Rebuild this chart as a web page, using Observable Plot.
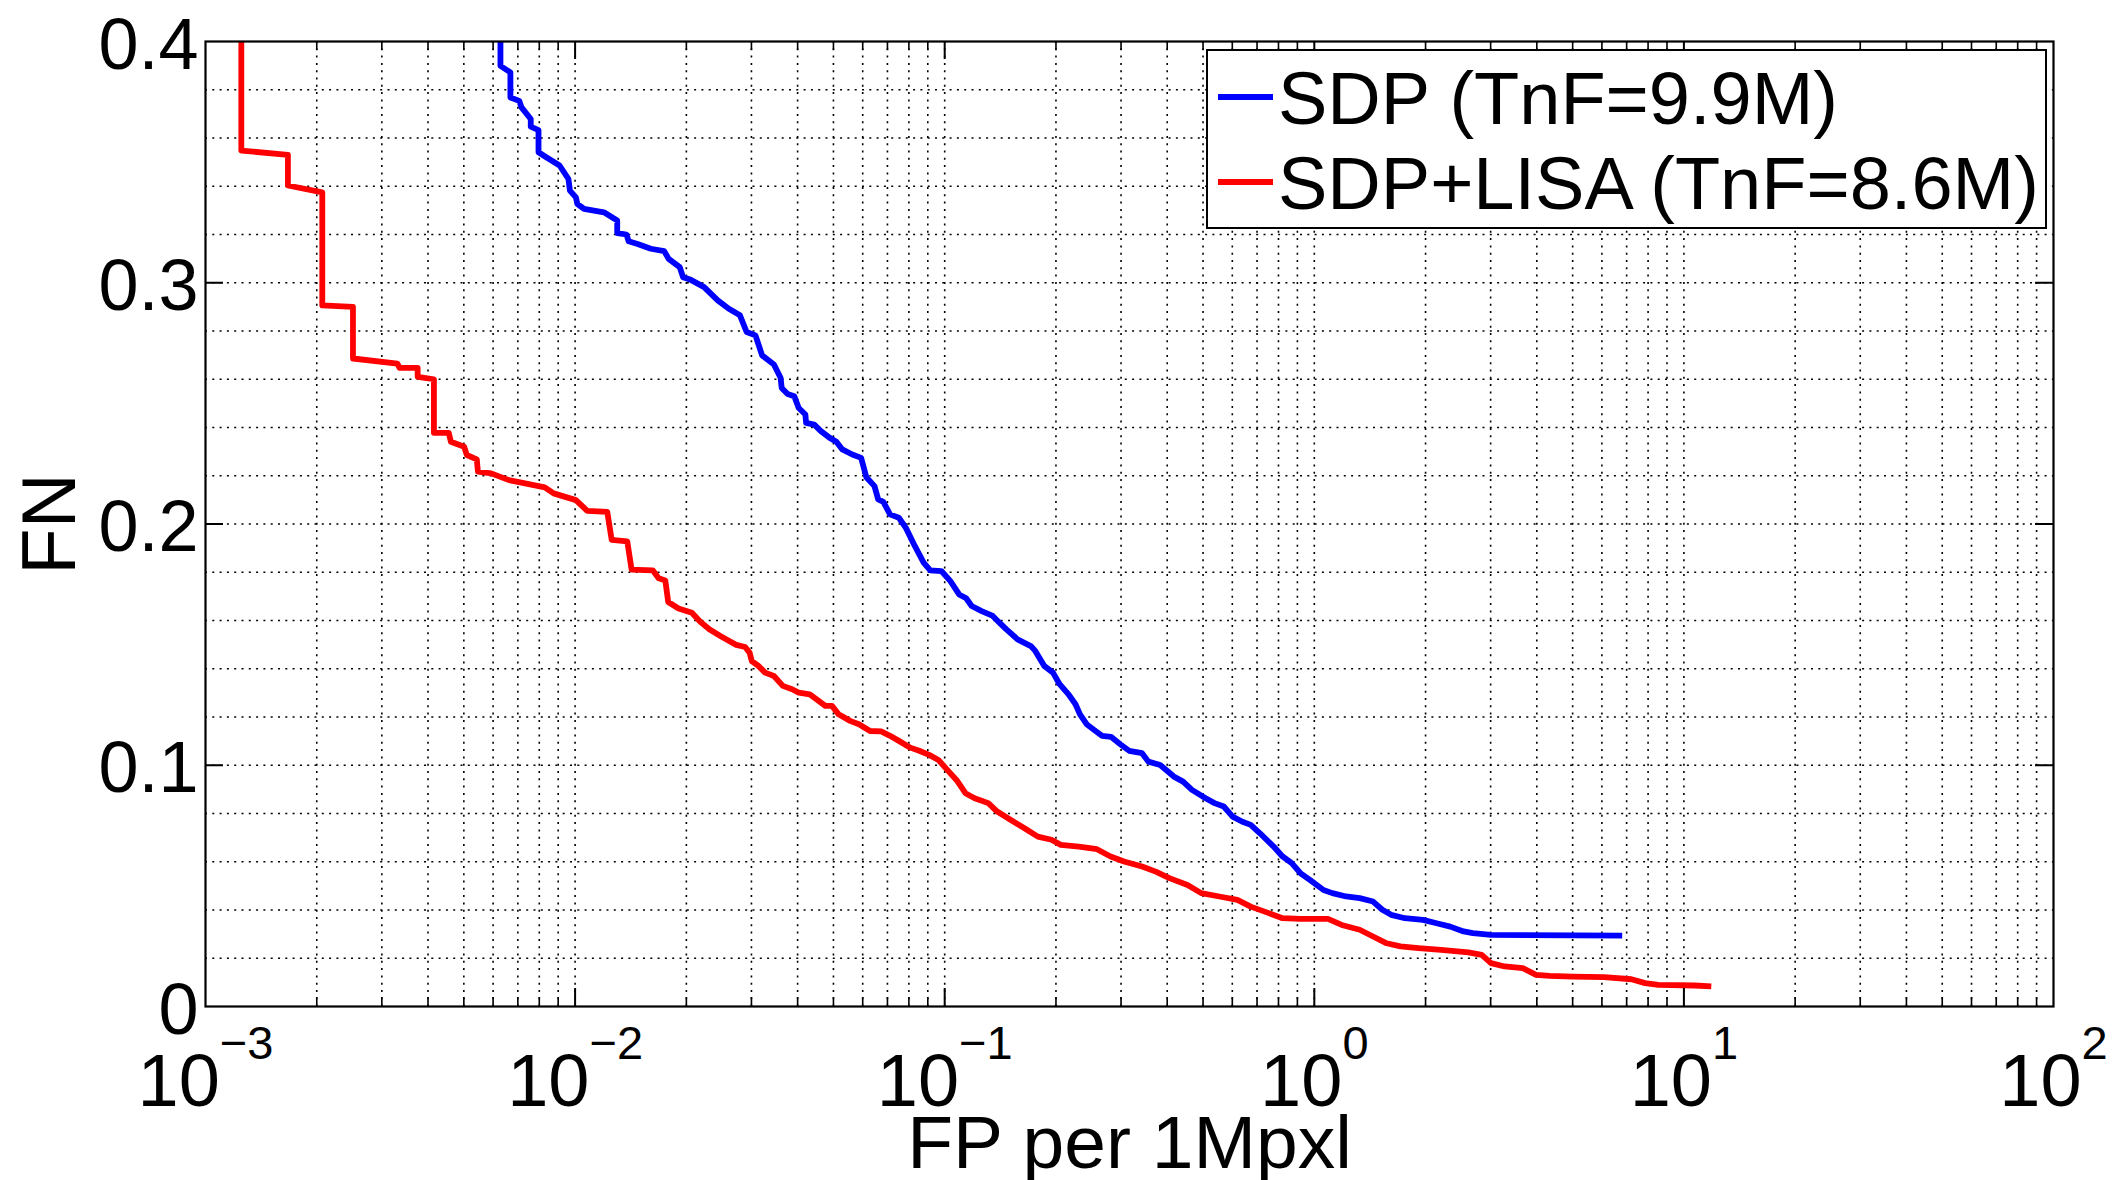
<!DOCTYPE html>
<html>
<head>
<meta charset="utf-8">
<script src="https://cdn.jsdelivr.net/npm/d3@7"></script>
<script src="https://cdn.jsdelivr.net/npm/@observablehq/plot@0.6"></script>
<style>
  html, body { margin: 0; padding: 0; background: #fff; }
  #wrap { position: relative; width: 2114px; height: 1180px; }
</style>
</head>
<body>
<div id="wrap"></div>
<script>
// ---------- data ----------
const seriesNames = ["SDP (TnF=9.9M)", "SDP+LISA (TnF=8.6M)"];
const seriesColors = ["#0000ff", "#ff0000"];

// SDP (blue): FP per 1Mpxl, FN
const sdpFP = [0.006281, 0.006281, 0.006683, 0.006683, 0.007063, 0.007161, 0.007586, 0.007586, 0.007962, 0.007962,
  0.008356, 0.009078, 0.009594, 0.009683, 0.01005, 0.01014, 0.01057, 0.01197, 0.01300, 0.01300,
  0.01377, 0.01396, 0.01476, 0.01603, 0.01742, 0.01791, 0.01919, 0.01959, 0.02056, 0.02234,
  0.02432, 0.02606, 0.02793, 0.02911, 0.03076, 0.03206,
  0.03451, 0.03597, 0.03622, 0.03758, 0.03917, 0.04027, 0.04198, 0.04217, 0.04436, 0.04624,
  0.04887, 0.05093, 0.05284, 0.05623, 0.05943, 0.06138, 0.06457, 0.06607, 0.06823, 0.07112,
  0.07516, 0.07852, 0.08299, 0.08770, 0.09141, 0.09795, 0.1035, 0.1094, 0.1143, 0.1183,
  0.1259, 0.1349, 0.1406, 0.1466, 0.1574, 0.1710, 0.1758, 0.1858, 0.1963, 0.2046,
  0.2163, 0.2259, 0.2323, 0.2421, 0.2559, 0.2667, 0.2818, 0.2985, 0.3155,
  0.3420, 0.3556, 0.3828, 0.4169, 0.4416, 0.4667, 0.5082, 0.5370, 0.5689, 0.6012,
  0.6368, 0.6730, 0.7129, 0.7762, 0.8204, 0.8690, 0.9183, 0.9727, 1.059, 1.119,
  1.219, 1.327, 1.442, 1.528, 1.614, 1.758, 1.968, 2.143, 2.333, 2.535,
  2.685, 3.006, 6.808];
const sdpFN = [0.400, 0.3899, 0.3872, 0.3768, 0.3754, 0.3727, 0.3679, 0.3647, 0.3633, 0.3541,
  0.3520, 0.3486, 0.3430, 0.3382, 0.3354, 0.3327, 0.3306, 0.3292, 0.3258, 0.3206,
  0.3200, 0.3172, 0.3161, 0.3141, 0.3131, 0.3099, 0.3065, 0.3023, 0.3012, 0.2982,
  0.2927, 0.2892, 0.2865, 0.2796, 0.2782, 0.2699,
  0.2661, 0.2606, 0.2564, 0.2539, 0.2530, 0.2481, 0.2454, 0.2419, 0.2412, 0.2385,
  0.2357, 0.2341, 0.2309, 0.2288, 0.2274, 0.2194, 0.2157, 0.2102, 0.2092, 0.2040,
  0.2026, 0.1984, 0.1909, 0.1840, 0.1808, 0.1805, 0.1764, 0.1708, 0.1692, 0.1660,
  0.1639, 0.1619, 0.1591, 0.1564, 0.1522, 0.1494, 0.1474, 0.1412, 0.1384, 0.1336,
  0.1294, 0.1253, 0.1211, 0.1170, 0.1142, 0.1122, 0.1118, 0.1087, 0.1060,
  0.1050, 0.1015, 0.1001, 0.0953, 0.0932, 0.0898, 0.0863, 0.0843, 0.0829, 0.0787,
  0.0767, 0.0753, 0.0718, 0.0663, 0.0622, 0.0594, 0.0552, 0.0525, 0.0483, 0.0470,
  0.0456, 0.0449, 0.0435, 0.0401, 0.0380, 0.0366, 0.0359, 0.0345, 0.0331, 0.0311,
  0.0304, 0.0297, 0.0294];

// SDP+LISA (red): FP per 1Mpxl, FN
const lisaFP = [0.001250, 0.001250, 0.001671, 0.001671, 0.002070, 0.002070, 0.002506, 0.002506, 0.003304, 0.003350,
  0.003750, 0.003750, 0.004150, 0.004150, 0.004550, 0.004613, 0.005012, 0.005093, 0.005420, 0.005458,
  0.005929, 0.006622, 0.008279, 0.008750, 0.01005,
  0.01079, 0.01222, 0.01256, 0.01384, 0.01422, 0.01622, 0.01683, 0.01754, 0.01786, 0.01905, 0.02070, 0.02178,
  0.02307, 0.02472, 0.02612, 0.02729, 0.02884, 0.02965, 0.03006, 0.03133, 0.03266, 0.03451,
  0.03648, 0.03864, 0.04027, 0.04315, 0.04560, 0.04753, 0.04955, 0.05164, 0.05546, 0.05861,
  0.06281, 0.06730, 0.07112, 0.07516, 0.08072, 0.08531,
  0.09078, 0.09616, 0.1016, 0.1076, 0.1138, 0.1205, 0.1312, 0.1387, 0.1510, 0.1644,
  0.1786, 0.1945, 0.2061, 0.2307, 0.2582, 0.2812, 0.3055, 0.3420, 0.3724, 0.4055,
  0.4539, 0.4943, 0.5534, 0.6194, 0.6730, 0.7534, 0.8204, 0.9183, 1.089, 1.186,
  1.327, 1.442, 1.570, 1.710, 1.914, 2.203, 2.612, 2.838, 3.006, 3.273,
  3.664, 3.981, 4.335, 5.000, 6.081, 7.211, 7.852, 8.531, 10.69, 11.86];
const lisaFN = [0.400, 0.3548, 0.3530, 0.3403, 0.3375, 0.2906, 0.2900, 0.2686, 0.2665, 0.2647,
  0.2647, 0.2610, 0.2600, 0.2378, 0.2378, 0.2341, 0.2320, 0.2286, 0.2268, 0.2217,
  0.2210, 0.2182, 0.2152, 0.2127, 0.2099,
  0.2054, 0.2050, 0.1934, 0.1928, 0.1811, 0.1808, 0.1775, 0.1766, 0.1677, 0.1650, 0.1632, 0.1596,
  0.1564, 0.1536, 0.1515, 0.1499, 0.1490, 0.1467, 0.1432, 0.1412, 0.1384, 0.1370,
  0.1329, 0.1315, 0.1301, 0.1294, 0.1267, 0.1246, 0.1246, 0.1211, 0.1184, 0.1170,
  0.1142, 0.1140, 0.1122, 0.1101, 0.1073, 0.1060,
  0.1043, 0.1022, 0.0981, 0.0939, 0.0884, 0.0863, 0.0843, 0.0808, 0.0773, 0.0739,
  0.0704, 0.0691, 0.0670, 0.0663, 0.0652, 0.0622, 0.0601, 0.0580, 0.0559, 0.0532,
  0.0504, 0.0470, 0.0456, 0.0442, 0.0414, 0.0387, 0.0366, 0.0363, 0.0363, 0.0338,
  0.0318, 0.0290, 0.0262, 0.0249, 0.0242, 0.0235, 0.0224, 0.0214, 0.0180, 0.0166,
  0.0159, 0.0131, 0.0127, 0.0124, 0.0122, 0.0113, 0.0097, 0.0090, 0.0087, 0.0083];

// axes / ticks
const xMajorTicks = [0.001, 0.01, 0.1, 1, 10, 100];
const xTickBase = "10";
const xTickExponents = ["\u22123", "\u22122", "\u22121", "0", "1", "2"];
const xMinorMultipliers = [2, 3, 4, 5, 6, 7, 8, 9];
const yMajorTicks = [0, 0.1, 0.2, 0.3, 0.4];
const yGridStep = 0.02;
const xLabel = "FP per 1Mpxl";
const yLabel = "FN";

// ---------- build tables ----------
const sdp = sdpFP.map((fp, i) => ({fp, fn: sdpFN[i]}));
const lisa = lisaFP.map((fp, i) => ({fp, fn: lisaFN[i]}));
const xMinorTicks = xMajorTicks.slice(0, -1).flatMap(d => xMinorMultipliers.map(m => m * d));
const xGrid = xMajorTicks.slice(1, -1).concat(xMinorTicks);
const yGrid = d3.range(1, 20).map(k => +(k * yGridStep).toFixed(2));

// ---------- layout ----------
const W = 2114, H = 1180;
const mL = 205, mR = 61, mT = 41, mB = 174;
const frameW = W - mL - mR, frameH = H - mT - mB;
const FONT = "'Liberation Sans', Arial, Helvetica, sans-serif";
const gridDash = "2,5.3";
const XTICK_FS = 74;
const LINE_W = 5.8;

const svg = Plot.plot({
  width: W,
  height: H,
  marginLeft: mL, marginRight: mR, marginTop: mT, marginBottom: mB,
  style: {fontFamily: FONT, background: "#fff", color: "#000", overflow: "visible"},
  x: {type: "log", domain: [1e-3, 1e2], axis: null},
  y: {domain: [0, 0.4]},
  marks: [
    // dotted grid
    Plot.ruleX(xGrid, {x: d => d, stroke: "#000", strokeWidth: 1.6, strokeDasharray: gridDash}),
    Plot.ruleY(yGrid, {y: d => d, stroke: "#000", strokeWidth: 1.6, strokeDasharray: gridDash}),
    // curves
    Plot.line(sdp, {x: "fp", y: "fn", stroke: seriesColors[0], strokeWidth: LINE_W, strokeLinejoin: "round", strokeLinecap: "butt", clip: true}),
    Plot.line(lisa, {x: "fp", y: "fn", stroke: seriesColors[1], strokeWidth: LINE_W, strokeLinejoin: "round", strokeLinecap: "butt", clip: true}),
    // inward ticks (bottom / top)
    Plot.ruleX(xMajorTicks.slice(1, -1), {x: d => d, insetTop: frameH - 18, stroke: "#000", strokeWidth: 2}),
    Plot.ruleX(xMajorTicks.slice(1, -1), {x: d => d, insetBottom: frameH - 18, stroke: "#000", strokeWidth: 2}),
    Plot.ruleX(xMinorTicks, {x: d => d, insetTop: frameH - 9, stroke: "#000", strokeWidth: 1.6}),
    Plot.ruleX(xMinorTicks, {x: d => d, insetBottom: frameH - 9, stroke: "#000", strokeWidth: 1.6}),
    // inward ticks (left / right)
    Plot.ruleY(yMajorTicks.slice(1, -1), {y: d => d, insetRight: frameW - 18, stroke: "#000", strokeWidth: 2}),
    Plot.ruleY(yMajorTicks.slice(1, -1), {y: d => d, insetLeft: frameW - 18, stroke: "#000", strokeWidth: 2}),
    // box
    Plot.frame({stroke: "#000", strokeWidth: 2.2}),
    // y tick labels
    Plot.axisY({ticks: yMajorTicks, tickSize: 0, tickPadding: 7, fontSize: 72, dy: 4,
      tickFormat: d3.format("~g"), label: null, fill: "#000"}),
    // x tick labels (10^k), exponents added below as tspans
    Plot.text(xMajorTicks, {x: d => d, text: () => xTickBase, frameAnchor: "bottom", lineAnchor: "bottom",
      textAnchor: "middle", dy: 99, fontSize: XTICK_FS, fill: "#000"}),
    // axis titles
    Plot.text([xLabel], {text: d => d, frameAnchor: "bottom", lineAnchor: "bottom", textAnchor: "middle",
      dy: 161, fontSize: 75, fill: "#000"}),
    Plot.text([yLabel], {text: d => d, frameAnchor: "left", lineAnchor: "bottom", textAnchor: "middle",
      rotate: -90, dx: -131, fontSize: 76, fill: "#000"})
  ]
});

// superscript exponents on the x tick labels
d3.select(svg).selectAll("g").filter(function() {
  return this.getAttribute("font-size") === String(XTICK_FS);
}).selectAll("text").each(function(d, i) {
  const idx = (typeof d === "number" && d >= 0 && d < xTickExponents.length) ? d : i;
  const t = d3.select(this);
  t.text(null);
  t.append("tspan").text(xTickBase);
  t.append("tspan").attr("font-size", 47).attr("dy", -47).text(xTickExponents[idx]);
});

// legend (inside the axes, top right)
const leg = d3.select(svg).append("g").attr("class", "legend")
  .attr("font-family", FONT).attr("text-anchor", "start");
leg.append("rect").attr("x", 1207).attr("y", 50).attr("width", 839).attr("height", 178)
  .attr("fill", "#fff").attr("stroke", "#000").attr("stroke-width", 2);
const rowY = [97, 182];
seriesNames.forEach((name, i) => {
  leg.append("line").attr("x1", 1218).attr("x2", 1273).attr("y1", rowY[i]).attr("y2", rowY[i])
    .attr("stroke", seriesColors[i]).attr("stroke-width", LINE_W);
  leg.append("text").attr("x", 1278).attr("y", rowY[i] + 27).attr("font-size", 74)
    .attr("text-anchor", "start").attr("fill", "#000").text(name);
});

document.getElementById("wrap").appendChild(svg);
</script>
</body>
</html>
